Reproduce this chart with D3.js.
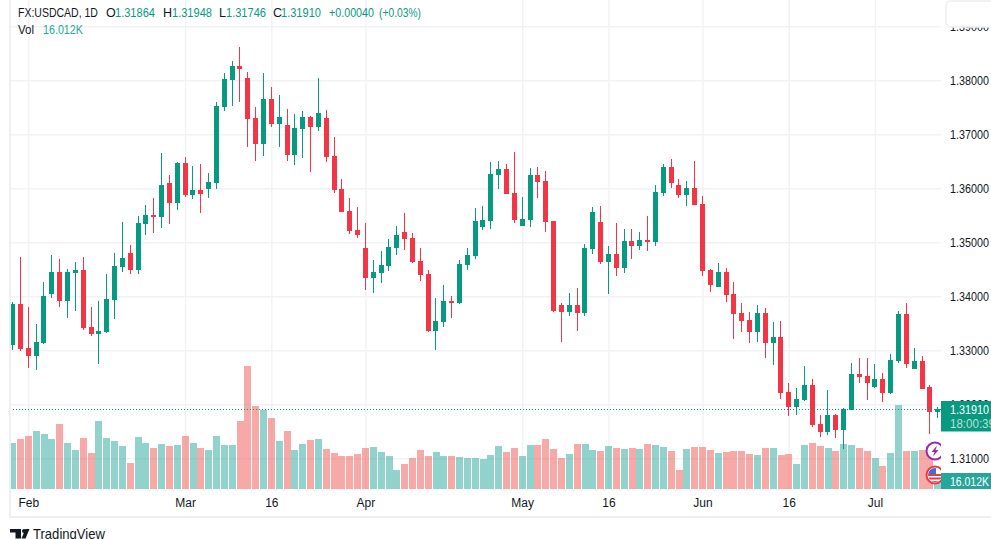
<!DOCTYPE html>
<html>
<head>
<meta charset="utf-8">
<script src="https://cdnjs.cloudflare.com/ajax/libs/d3/7.8.5/d3.min.js"></script>
<style>
html, body { margin: 0; padding: 0; background: #fff; overflow: hidden; }
text { font-family: "Liberation Sans", sans-serif; }
</style>
</head>
<body>
<div id="vis"></div>
<script>
// daily bars, Jan 30 to Jul 13
var opens = [1.33098,1.33857,1.33043,1.32894,1.33135,1.34043,1.34450,1.33913,1.34431,1.34487,
  1.33431,1.33302,1.33339,1.33931,1.34543,1.34802,1.34487,1.35339,1.35506,1.35468,
  1.36098,1.35728,1.36468,1.35876,1.35968,1.35987,1.36098,1.37506,1.38006,1.38265,
  1.38043,1.37302,1.36820,1.37654,1.37191,1.37172,1.36617,1.37098,1.37320,1.37135,
  1.37302,1.36598,1.35987,1.35580,1.35228,1.34894,1.34339,1.34431,1.34561,1.34894,
  1.35191,1.35080,1.34654,1.34413,1.33357,1.33524,1.33913,1.33876,1.34580,1.34746,
  1.35283,1.35394,1.36246,1.36357,1.35913,1.35302,1.35413,1.36246,1.36135,1.35394,
  1.33839,1.33709,1.33839,1.33691,1.34876,1.35376,1.34635,1.34783,1.34524,1.35024,
  1.34931,1.35043,1.35006,1.35913,1.36394,1.36061,1.35876,1.36006,1.35709,1.34487,
  1.34172,1.34450,1.34043,1.33691,1.33561,1.33339,1.33691,1.33135,1.33246,1.32228,
  1.31950,1.32080,1.32357,1.31635,1.31487,1.31802,1.31524,1.31894,1.32561,1.32524,
  1.32320,1.32468,1.32209,1.32802,1.33672,1.32654,1.32802,1.32320,1.31864];
var highs = [1.33894,1.34728,1.33802,1.33487,1.34265,1.34765,1.34691,1.34506,1.34635,1.34728,
  1.33802,1.33913,1.34413,1.34802,1.35376,1.34950,1.35487,1.35691,1.35820,1.36654,
  1.36246,1.36487,1.36580,1.36413,1.36450,1.36283,1.37598,1.38135,1.38357,1.38617,
  1.38154,1.37506,1.38135,1.37876,1.37728,1.37468,1.37376,1.37431,1.37339,1.38043,
  1.37450,1.36950,1.36172,1.35820,1.35654,1.35357,1.34672,1.34839,1.35061,1.35302,
  1.35543,1.35172,1.34894,1.34487,1.33968,1.34209,1.34006,1.34672,1.34894,1.35635,
  1.35672,1.36487,1.36506,1.36450,1.36672,1.35839,1.36376,1.36394,1.36320,1.35394,
  1.33876,1.34061,1.34154,1.34968,1.35654,1.35672,1.34931,1.35357,1.35246,1.35246,
  1.35191,1.35487,1.36061,1.36450,1.36543,1.36172,1.36135,1.36506,1.35857,1.34506,
  1.34617,1.34524,1.34265,1.33876,1.33709,1.33839,1.33783,1.33524,1.33543,1.32394,
  1.32302,1.32709,1.32468,1.31802,1.32265,1.31820,1.31931,1.32765,1.32857,1.32857,
  1.32746,1.32580,1.32931,1.33728,1.33876,1.33043,1.32894,1.32357,1.31948];
var lows = [1.33006,1.32987,1.32672,1.32635,1.33117,1.33968,1.33802,1.33598,1.33728,1.33376,
  1.33265,1.32746,1.33320,1.33580,1.34450,1.34413,1.34413,1.35135,1.35172,1.35265,
  1.35339,1.35598,1.35839,1.35802,1.35543,1.35820,1.35987,1.37431,1.37524,1.37598,
  1.36765,1.36506,1.36598,1.37135,1.36765,1.36506,1.36431,1.36561,1.36302,1.37061,
  1.36487,1.35913,1.35561,1.35154,1.35080,1.34117,1.34061,1.34246,1.34468,1.34765,
  1.34857,1.34617,1.34283,1.33339,1.33006,1.33431,1.33598,1.33857,1.34487,1.34691,
  1.35228,1.35246,1.35987,1.35894,1.35357,1.35302,1.35283,1.35820,1.35191,1.33709,
  1.33154,1.33635,1.33357,1.33635,1.34783,1.34598,1.34043,1.34376,1.34431,1.34691,
  1.34857,1.34839,1.34931,1.35857,1.36006,1.35820,1.35672,1.35691,1.34376,1.34080,
  1.34172,1.33894,1.33209,1.33339,1.33135,1.33154,1.32857,1.32728,1.32098,1.31783,
  1.31802,1.32061,1.31580,1.31394,1.31431,1.31376,1.31172,1.31894,1.32394,1.32080,
  1.32302,1.32043,1.32191,1.32765,1.32672,1.32654,1.32283,1.31450,1.31746];
var closes = [1.33857,1.33024,1.32894,1.33154,1.34006,1.34450,1.33913,1.34450,1.34487,1.33413,
  1.33302,1.33357,1.33950,1.34561,1.34709,1.34487,1.35357,1.35506,1.35468,1.36061,
  1.35728,1.36468,1.35876,1.35968,1.35894,1.36117,1.37524,1.38024,1.38265,1.38209,
  1.37283,1.36820,1.37654,1.37191,1.37320,1.36617,1.37117,1.37320,1.37135,1.37394,
  1.36580,1.35968,1.35561,1.35209,1.35135,1.34339,1.34450,1.34580,1.34913,1.35135,
  1.35061,1.34635,1.34394,1.33357,1.33543,1.33913,1.33876,1.34598,1.34765,1.35394,
  1.35413,1.36265,1.36357,1.35894,1.35413,1.35431,1.36246,1.36117,1.35376,1.33728,
  1.33709,1.33839,1.33691,1.34894,1.35561,1.34635,1.34783,1.34524,1.35024,1.34931,
  1.35043,1.35006,1.35931,1.36394,1.36098,1.35876,1.36006,1.35691,1.34468,1.34209,
  1.34450,1.34024,1.33672,1.33543,1.33339,1.33691,1.33135,1.33246,1.32209,1.31950,
  1.32098,1.32357,1.31617,1.31487,1.31802,1.31524,1.31913,1.32561,1.32506,1.32394,
  1.32468,1.32209,1.32820,1.33672,1.32746,1.32802,1.32283,1.31857,1.31910];
// volume in K
var volumes = [92,100,106,116,110,100,130,92,78,102,72,136,102,96,86,52,104,92,82,90,
  86,88,106,92,82,78,106,88,88,136,246,166,158,142,96,116,78,90,98,100,
  80,72,66,66,70,82,84,74,66,38,50,62,78,66,74,66,66,64,62,62,
  60,68,86,74,82,66,88,88,100,80,62,70,90,90,78,76,86,82,80,82,
  80,90,88,84,76,38,80,84,84,78,72,74,76,76,70,68,82,82,68,70,
  50,88,92,86,82,76,90,88,82,76,62,46,72,168,76,76,78,86,16.012];

var priceTicks = [1.31,1.32,1.33,1.34,1.35,1.36,1.37,1.38,1.39];
var timeTickBars = [2,22,33,45,65,76,88,99,110];
var timeTickLabels = ["Feb","Mar","16","Apr","May","16","Jun","16","Jul"];

var lastPrice = "1.31910", countdown = "18:00:39", lastVol = "16.012K";
var headerTitle = "FX:USDCAD, 1D";
var ohlcNames = ["O","H","L","C"];
var ohlcValues = ["1.31864","1.31948","1.31746","1.31910"];

var width = 991, height = 539;
var paneLeft = 10, paneRight = 941, paneBottom = 489, frameBottom = 517;

var up = "#089981", down = "#f23645";
var volUp = "rgba(38,166,154,0.5)", volDown = "rgba(239,83,80,0.5)";
var gridColor = "#f2f2f5", frameColor = "#eeeef3", textColor = "#131722";

var svg = d3.select("#vis").append("svg")
  .attr("width", width)
  .attr("height", height)
  .style("display", "block");

// the reference font is narrower than anything installed, so squeeze to its measured widths
function put(parent, str, px, py, color, len, size) {
  var t = parent.append("text")
    .attr("fill", color)
    .style("font-size", (size || 12.5) + "px")
    .text(str);
  var k = len ? len / t.node().getComputedTextLength() : 1;
  t.attr("transform", "translate(" + px + "," + py + ") scale(" + k + ",1)");
  return t;
}

var x = d3.scaleLinear().domain([0, 118]).range([12.62, 937.7]);
var y = d3.scaleLinear().domain([1.33, 1.38]).range([350.3, 80.3]);
var yVol = d3.scaleLinear().domain([0, 246]).range([paneBottom, 366]);

svg.append("clipPath").attr("id", "pane").append("rect")
  .attr("x", paneLeft).attr("y", 0)
  .attr("width", paneRight - paneLeft).attr("height", paneBottom);

// grid comes from the axes, long ticks
var gridY = svg.append("g")
  .attr("transform", "translate(" + paneLeft + ",0)")
  .call(d3.axisRight(y).tickValues(priceTicks).tickSize(paneRight - paneLeft).tickFormat(""));
var gridX = svg.append("g")
  .attr("transform", "translate(0," + paneBottom + ")")
  .call(d3.axisTop(x).tickValues(timeTickBars).tickSize(paneBottom).tickFormat(""));
svg.selectAll(".domain").remove();
gridY.selectAll("line").attr("stroke", gridColor).attr("stroke-width", 1.4);
gridX.selectAll("line").attr("stroke", gridColor).attr("stroke-width", 1.4);

var chart = svg.append("g").attr("clip-path", "url(#pane)");

chart.selectAll(".vol")
  .data(volumes)
  .enter().append("rect")
  .attr("class", "vol")
  .attr("x", function(d, i) { return Math.round(x(i) - 3.4); })
  .attr("width", 7)
  .attr("y", function(d) { return yVol(d); })
  .attr("height", function(d) { return paneBottom - yVol(d); })
  .attr("fill", function(d, i) { return closes[i] >= opens[i] ? volUp : volDown; })
  .attr("shape-rendering", "crispEdges");

chart.selectAll(".wick")
  .data(opens)
  .enter().append("rect")
  .attr("class", "wick")
  .attr("x", function(d, i) { return Math.round(x(i) - 0.5); })
  .attr("width", 1)
  .attr("y", function(d, i) { return y(highs[i]); })
  .attr("height", function(d, i) { return y(lows[i]) - y(highs[i]); })
  .attr("fill", function(d, i) { return closes[i] >= opens[i] ? up : down; })
  .attr("shape-rendering", "crispEdges");

chart.selectAll(".body")
  .data(opens)
  .enter().append("rect")
  .attr("class", "body")
  .attr("x", function(d, i) { return Math.round(x(i) - 0.5) - 2; })
  .attr("width", 5)
  .attr("y", function(d, i) { return y(Math.max(opens[i], closes[i])); })
  .attr("height", function(d, i) { return Math.max(1, Math.abs(y(opens[i]) - y(closes[i]))); })
  .attr("fill", function(d, i) { return closes[i] >= opens[i] ? up : down; })
  .attr("shape-rendering", "crispEdges");

// last price line
var lastY = Math.round(y(1.3191)) + 0.5;
svg.append("line")
  .attr("x1", paneLeft).attr("x2", paneRight)
  .attr("y1", lastY).attr("y2", lastY)
  .attr("stroke", up).attr("stroke-width", 1)
  .attr("stroke-dasharray", "1 2");

// news icons, half under the price scale
var bolt = svg.append("g").attr("transform", "translate(935,451)");
bolt.append("circle").attr("r", 8.5).attr("fill", "#fff").attr("stroke", "#9c27b0").attr("stroke-width", 2);
bolt.append("path").attr("d", "M2-5.5L-3.5 1H-.5L-2 5.5L3.5-1H.5Z").attr("fill", "#9c27b0");

svg.append("clipPath").attr("id", "flagclip").append("circle").attr("cx", 935).attr("cy", 475).attr("r", 7);
svg.append("circle").attr("cx", 935).attr("cy", 475).attr("r", 8.5).attr("fill", "#fff").attr("stroke", down).attr("stroke-width", 2);
var flagIn = svg.append("g").attr("clip-path", "url(#flagclip)");
flagIn.append("rect").attr("x", 927).attr("y", 467).attr("width", 16).attr("height", 16).attr("fill", "#fff");
flagIn.selectAll(".stripe").data([1, 2, 3]).enter().append("rect")
  .attr("x", 927).attr("width", 16).attr("height", 2)
  .attr("y", function(d) { return 474 + (d - 1) * 3.5; })
  .attr("fill", down);
flagIn.append("rect").attr("x", 927).attr("y", 467).attr("width", 9).attr("height", 7).attr("fill", "#3a6fd8");

// price scale
svg.append("rect").attr("x", paneRight).attr("y", 0)
  .attr("width", width - paneRight).attr("height", frameBottom).attr("fill", "#fff");

var priceAxis = svg.append("g")
  .attr("transform", "translate(" + paneRight + ",0)")
  .call(d3.axisRight(y).tickValues(priceTicks).tickSize(0)
    .tickFormat(function(d) { return d.toFixed(5); }));
priceAxis.select(".domain").remove();
priceAxis.selectAll("text")
  .attr("fill", textColor)
  .attr("x", 0)
  .style("font-size", "12px")
  .attr("transform", function() { return "translate(9,0) scale(" + 39 / this.getComputedTextLength() + ",1)"; });

// time scale
var timeAxis = svg.append("g")
  .attr("transform", "translate(0," + paneBottom + ")")
  .call(d3.axisBottom(x).tickValues(timeTickBars).tickSize(0).tickPadding(9)
    .tickFormat(function(d, i) { return timeTickLabels[i]; }));
timeAxis.select(".domain").remove();
timeAxis.selectAll("text")
  .attr("fill", textColor)
  .style("font-size", "12px");

// frame
svg.append("rect").attr("x", 9).attr("y", 0).attr("width", 2).attr("height", frameBottom + 1).attr("fill", frameColor);
svg.append("rect").attr("x", 9).attr("y", frameBottom - 1).attr("width", width - 9).attr("height", 2).attr("fill", frameColor);
svg.append("rect").attr("x", 946).attr("y", 1).attr("width", 60).attr("height", 26).attr("rx", 5)
  .attr("fill", "#fff").attr("stroke", frameColor).attr("stroke-width", 1.5);

// labels on the scale
svg.append("rect").attr("x", paneRight).attr("y", 401).attr("width", 50).attr("height", 30.5).attr("fill", up);
put(svg, lastPrice, 950, 414, "#fff", 39, 12);
put(svg, countdown, 950, 427.5, "#fff", 45, 12).attr("fill-opacity", 0.72);
svg.append("rect").attr("x", paneRight).attr("y", 473).attr("width", 50).attr("height", 16).attr("fill", "#26a69a");
put(svg, lastVol, 950, 485.5, "#fff", 39, 12);

// legend
var legend = svg.append("g");
put(legend, headerTitle, 18, 17, textColor, 80);
var nameX = [106, 163, 219, 273], valueX = [115, 172, 226, 281];
ohlcNames.forEach(function(n, i) {
  put(legend, n, nameX[i], 17, textColor);
  put(legend, ohlcValues[i], valueX[i], 17, up, 40);
});
put(legend, "+0.00040", 329, 17, up, 45);
put(legend, "(+0.03%)", 379, 17, up, 42);
put(legend, "Vol", 18, 34, textColor, 16);
put(legend, lastVol, 43, 34, "#26a69a", 40);

// footer logo
var logo = svg.append("g").attr("fill", textColor);
logo.append("path").attr("d", "M10 529H21V538.5H15.5V532.5H10Z");
logo.append("circle").attr("cx", 24).attr("cy", 531).attr("r", 2);
logo.append("path").attr("d", "M25.5 529H29.5L25.5 538.5H21.5Z");
put(svg, "TradingView", 33, 538.5, textColor, 72, 14);
</script>
</body>
</html>
